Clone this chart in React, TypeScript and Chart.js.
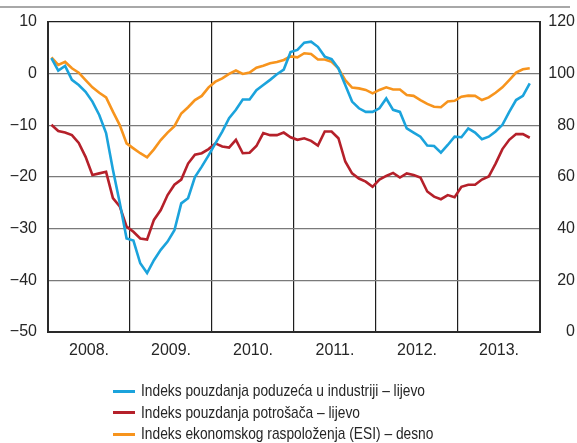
import { useEffect, useRef } from 'react';
import { Chart, registerables } from 'chart.js';

Chart.register(...registerables);

// Year labels (each year spans 12 monthly points, Jan 2008 – Nov 2013)
const years = ['2008.', '2009.', '2010.', '2011.', '2012.', '2013.'];

// Indeks pouzdanja poduzeća u industriji (left axis)
const industry = [
  3.0, 0.6, 1.5, -1.2, -2.2, -3.5, -5.4, -8.0, -11.5, -18.6, -25.0, -31.9,
  -32.3, -36.7, -38.6, -36.1, -34.1, -32.5, -30.3, -25.1, -24.1, -20.0, -18.0, -15.8,
  -13.5, -11.2, -8.6, -7.0, -5.0, -5.0, -3.2, -2.2, -1.2, -0.1, 0.8, 4.2,
  4.6, 6.0, 6.2, 5.2, 3.3, 2.8, 1.0, -2.2, -5.4, -6.7, -7.4, -7.4,
  -6.7, -4.8, -7.0, -7.4, -10.6, -11.4, -12.2, -13.9, -14.0, -15.3, -13.8, -12.2,
  -12.3, -10.6, -11.4, -12.7, -12.2, -11.2, -9.9, -7.4, -5.1, -4.3, -1.9,
];

// Indeks pouzdanja potrošača (left axis)
const consumer = [
  -9.9, -11.1, -11.4, -11.9, -13.4, -16.1, -19.6, -19.3, -19.0, -24.1, -25.7, -29.6,
  -30.6, -31.9, -32.1, -28.3, -26.4, -23.5, -21.5, -20.5, -17.4, -15.7, -15.4, -14.6,
  -13.5, -14.1, -14.3, -12.8, -15.4, -15.3, -14.0, -11.5, -11.9, -11.9, -11.4, -12.3,
  -12.8, -12.5, -13.0, -13.9, -11.2, -11.2, -12.5, -17.0, -19.3, -20.3, -20.9, -21.9,
  -20.5, -19.8, -19.2, -20.1, -19.3, -19.6, -20.1, -22.8, -23.8, -24.3, -23.5, -23.9,
  -21.9, -21.5, -21.5, -20.5, -19.9, -17.4, -14.6, -12.8, -11.7, -11.7, -12.4,
];

// Indeks ekonomskog raspoloženja (ESI) (right axis)
const esi = [
  106.3, 103.4, 104.6, 102.1, 100.4, 97.5, 94.7, 92.6, 90.8, 85.3, 80.1, 73.0,
  71.1, 69.2, 67.6, 70.7, 74.3, 77.2, 79.7, 84.6, 87.0, 89.8, 91.4, 94.7,
  96.9, 98.2, 99.9, 101.2, 99.9, 100.4, 102.3, 103.1, 104.0, 104.5, 105.3, 106.7,
  106.3, 107.9, 107.6, 105.5, 105.5, 104.6, 102.1, 97.5, 94.6, 94.3, 93.7, 92.4,
  93.7, 94.7, 93.9, 93.9, 91.7, 91.4, 89.8, 88.3, 87.2, 87.0, 89.2, 89.5,
  91.1, 91.5, 91.4, 89.8, 90.8, 92.6, 94.7, 97.5, 100.4, 101.7, 102.1,
];

const seriesLabels = [
  'Indeks pouzdanja poduzeća u industriji – lijevo',
  'Indeks pouzdanja potrošača – lijevo',
  'Indeks ekonomskog raspoloženja (ESI) – desno',
];

const BLUE = '#1ba3dc';
const RED = '#b5202a';
const ORANGE = '#f7941d';
const FONT = "'Liberation Sans', Arial, sans-serif";
const TEXT = '#262626';

const toPoints = (arr: number[]) => arr.map((v, i) => ({ x: i + 0.5, y: v }));
const fmt = (v: number) => (v < 0 ? '\u2212' + Math.abs(v) : String(v));

export default function App() {
  const ref = useRef<HTMLCanvasElement | null>(null);

  useEffect(() => {
    if (!ref.current) return;
    const monthsTotal = years.length * 12;
    const chart = new Chart(ref.current, {
      type: 'line',
      data: {
        datasets: [
          { label: seriesLabels[0], data: toPoints(industry), borderColor: BLUE, borderWidth: 2.6, pointRadius: 0, yAxisID: 'y', tension: 0 },
          { label: seriesLabels[1], data: toPoints(consumer), borderColor: RED, borderWidth: 2.6, pointRadius: 0, yAxisID: 'y', tension: 0 },
          { label: seriesLabels[2], data: toPoints(esi), borderColor: ORANGE, borderWidth: 2.6, pointRadius: 0, yAxisID: 'y1', tension: 0 },
        ],
      },
      options: {
        animation: false,
        responsive: false,
        maintainAspectRatio: false,
        layout: { padding: { top: 22, right: 2, bottom: 81, left: 0 } },
        plugins: { legend: { display: false }, tooltip: { enabled: false } },
        scales: {
          x: {
            type: 'linear',
            min: 0,
            max: monthsTotal,
            afterBuildTicks: (s: any) => {
              const t = [];
              for (let v = 0; v <= monthsTotal; v += 6) t.push({ value: v });
              s.ticks = t;
            },
            afterFit: (s: any) => { s.height = 30; },
            grid: {
              color: (ctx: any) => (ctx.tick && ctx.tick.value % 12 === 0 ? '#1e1e1e' : 'rgba(0,0,0,0)'),
              lineWidth: 1.2,
              drawTicks: false,
            },
            border: { color: '#2a2a2a', width: 2 },
            ticks: {
              autoSkip: false,
              maxRotation: 0,
              padding: 9,
              color: TEXT,
              font: { family: FONT, size: 16 },
              callback: (v: any) => (v % 12 === 6 ? years[(v - 6) / 12] : ''),
            },
          },
          y: {
            position: 'left',
            min: -50,
            max: 10,
            afterFit: (s: any) => { s.width = 48; },
            grid: {
              color: (ctx: any) => (ctx.tick && ctx.tick.value === 10 ? '#1e1e1e' : '#7a7a7a'),
              lineWidth: 1.2,
              drawTicks: false,
            },
            border: { color: '#2a2a2a', width: 2 },
            ticks: {
              stepSize: 10,
              padding: 11,
              color: TEXT,
              font: { family: FONT, size: 16 },
              callback: (v: any) => fmt(v),
            },
          },
          y1: {
            position: 'right',
            min: 0,
            max: 120,
            afterFit: (s: any) => { s.width = 35; },
            grid: { display: false, drawTicks: false },
            border: { display: true, color: '#2a2a2a', width: 2 },
            ticks: {
              stepSize: 20,
              crossAlign: 'far',
              padding: 6,
              color: TEXT,
              font: { family: FONT, size: 16 },
            },
          },
        },
      } as any,
    });
    return () => chart.destroy();
  }, []);

  const colors = [BLUE, RED, ORANGE];
  const rowCenters = [391, 412.5, 434];

  return (
    <div style={{ position: 'absolute', left: 0, top: 0, width: 577, height: 443, overflow: 'hidden', background: '#fff' }}>
      <div style={{ position: 'absolute', left: 0, top: 6, width: 570, height: 1.5, background: '#a8a8a8' }} />
      <canvas ref={ref} width={577} height={443} style={{ display: 'block', width: 577, height: 443 }} />
      {seriesLabels.map((lab, i) => (
        <div
          key={lab}
          style={{
            position: 'absolute',
            left: 113,
            top: rowCenters[i] - 10.5,
            height: 21,
            display: 'flex',
            alignItems: 'center',
            whiteSpace: 'nowrap',
            fontFamily: FONT,
            fontSize: 17,
            color: TEXT,
          }}
        >
          <span style={{ display: 'inline-block', width: 22, height: 3, background: colors[i], marginRight: 6 }} />
          <span style={{ display: 'inline-block', transform: 'scaleX(0.81)', transformOrigin: 'left center' }}>{lab}</span>
        </div>
      ))}
    </div>
  );
}
